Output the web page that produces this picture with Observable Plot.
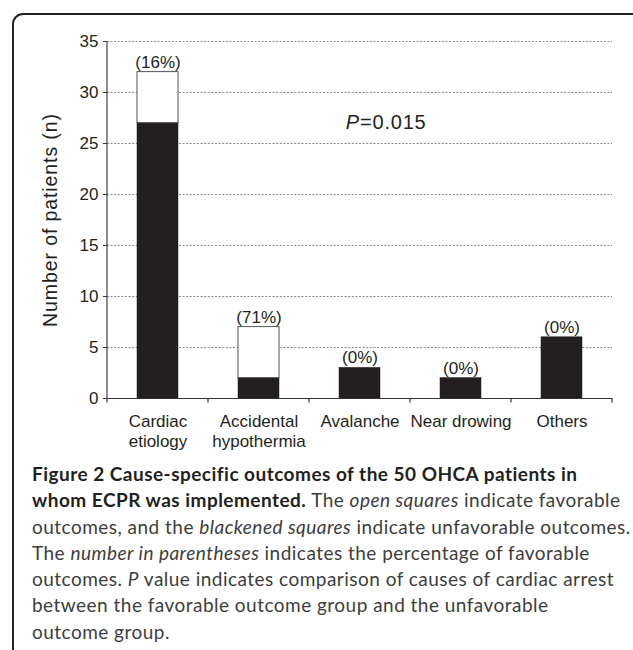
<!DOCTYPE html>
<html><head><meta charset="utf-8">
<script src="https://cdn.jsdelivr.net/npm/d3@7"></script>
<script src="https://cdn.jsdelivr.net/npm/@observablehq/plot@0.6"></script>
<style>
body{margin:0;background:#fff;width:633px;height:650px;overflow:hidden;position:relative;}
#frame{position:absolute;left:12px;top:13px;width:640px;height:720px;border:2px solid #222;border-radius:11px;box-sizing:border-box;}
#chart{position:absolute;left:0;top:0;}
#caption{position:absolute;left:32px;top:461px;font-family:Lato,"Open Sans",sans-serif;font-size:19px;line-height:26.3px;color:#3d3d3d;white-space:nowrap;}
#caption b{color:#231f20;font-weight:700;}
#caption div{display:block;}
</style></head><body>
<div id="frame"></div><div id="chart"></div><div id="caption"></div>
<script>
// ---- data ----
const causes = ["Cardiac\netiology", "Accidental\nhypothermia", "Avalanche", "Near drowing", "Others"];
const unfavorable = [27, 2, 3, 2, 6];
const favorable = [5, 5, 0, 0, 0];
const pctLabels = ["(16%)", "(71%)", "(0%)", "(0%)", "(0%)"];
const yTicks = [0, 5, 10, 15, 20, 25, 30, 35];
const yLabel = "Number of patients (n)";
const pText = "=0.015";
const captionLines = [
  [["b", "Figure 2 Cause-specific outcomes of the 50 OHCA patients in"]],
  [["b", "whom ECPR was implemented."], ["", " The "], ["i", "open squares"], ["", " indicate favorable"]],
  [["", "outcomes, and the "], ["i", "blackened squares"], ["", " indicate unfavorable outcomes."]],
  [["", "The "], ["i", "number in parentheses"], ["", " indicates the percentage of favorable"]],
  [["", "outcomes. "], ["i", "P"], ["", " value indicates comparison of causes of cardiac arrest"]],
  [["", "between the favorable outcome group and the unfavorable"]],
  [["", "outcome group."]]
];

const rows = causes.map((c, i) => ({
  cause: c, unfav: unfavorable[i], fav: favorable[i],
  total: unfavorable[i] + favorable[i], label: pctLabels[i]
}));

const font = '"Liberation Sans", Arial, Helvetica, sans-serif';
const ink = "#231f20";

const plot = Plot.plot({
  width: 633, height: 455,
  marginLeft: 107, marginRight: 21, marginTop: 41, marginBottom: 57,
  style: {fontFamily: font, fontSize: "17px", color: ink, background: "transparent", overflow: "visible"},
  x: {domain: causes, paddingInner: 0.594, paddingOuter: 0.297, label: null},
  y: {domain: [0, 35], label: null},
  marks: [
    Plot.gridY(yTicks.filter(t => t > 0), {stroke: "#8a8a8a", strokeOpacity: 1, strokeDasharray: "2,1.6", strokeWidth: 1}),
    Plot.barY(rows, {x: "cause", y1: 0, y2: "unfav", fill: ink, stroke: ink, strokeWidth: 0.5}),
    Plot.barY(rows.filter(d => d.fav > 0), {x: "cause", y1: "unfav", y2: "total", fill: "#fff", stroke: "#555", strokeWidth: 1}),
    Plot.ruleY([0], {stroke: "#333", strokeWidth: 1.2}),
    Plot.axisY({ticks: yTicks, tickSize: 4, tickPadding: 5, label: null, stroke: "#333"}),
    Plot.axisX({tickSize: 0, tickPadding: 14, lineHeight: 1.2, label: null}),
    Plot.text(rows, {x: "cause", y: "total", text: "label", lineAnchor: "bottom", dy: -4.5, fontSize: 17}),
    Plot.text([{c: causes[2], v: 26.44, t: "P"}], {x: "c", y: "v", text: "t", textAnchor: "end", lineAnchor: "bottom", fontSize: 20, fontStyle: "italic", dx: 0}),
    Plot.text([{c: causes[2], v: 26.44, t: pText}], {x: "c", y: "v", text: "t", textAnchor: "start", lineAnchor: "bottom", fontSize: 20, dx: 0}),
    Plot.text([yLabel], {frameAnchor: "left", rotate: -90, dx: -51, textAnchor: "middle", lineAnchor: "bottom", fontSize: 19.5})
  ]
});
document.getElementById("chart").appendChild(plot);

const svg = d3.select(plot);
svg.selectAll("text").filter(function(){ return this.textContent === pText || this.textContent === "P"; }).attr("letter-spacing", 0.8);
svg.selectAll("text").filter(function(){ return this.textContent === yLabel; }).attr("letter-spacing", 0.9);

// y axis line and band-boundary ticks, using Plot's scales
const sx = plot.scale("x"), sy = plot.scale("y");
const yTop = sy.apply(yTicks[yTicks.length - 1]), y0 = sy.apply(0);
const half = (sx.step - sx.bandwidth) / 2;
svg.append("line").attr("x1", sx.range[0]).attr("x2", sx.range[0]).attr("y1", yTop).attr("y2", y0)
  .attr("stroke", "#444").attr("stroke-width", 1.2);
const bounds = causes.map(c => sx.apply(c) - half).concat([sx.apply(causes[causes.length - 1]) + sx.bandwidth + half]);
bounds.forEach(x => svg.append("line").attr("x1", x).attr("x2", x).attr("y1", y0).attr("y2", y0 + 4.5)
  .attr("stroke", "#333").attr("stroke-width", 1.2));

// caption
const cap = document.getElementById("caption");
captionLines.forEach(line => {
  const div = document.createElement("div");
  line.forEach(([tag, txt]) => {
    const el = tag ? document.createElement(tag) : document.createElement("span");
    el.textContent = txt;
    div.appendChild(el);
  });
  cap.appendChild(div);
});
const targetW = 582;
const l5 = cap.querySelectorAll("div")[4];
const range = document.createRange();
range.selectNodeContents(l5);
const w = range.getBoundingClientRect().width;
cap.style.letterSpacing = ((targetW - w) / l5.textContent.length) + "px";
</script>
</body></html>
